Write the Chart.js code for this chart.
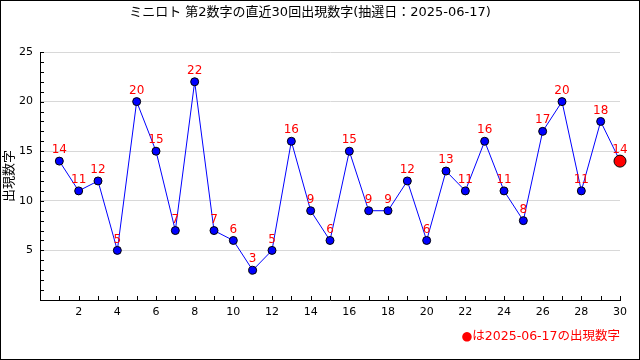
<!DOCTYPE html>
<html>
<head>
<meta charset="utf-8">
<script src="https://cdn.jsdelivr.net/npm/chart.js@4"></script>
<style>
html,body{margin:0;padding:0;background:#fff;}
canvas{display:block;}
</style>
</head>
<body>
<canvas id="c" width="640" height="360"></canvas>
<script>
const draws = [1,2,3,4,5,6,7,8,9,10,11,12,13,14,15,16,17,18,19,20,21,22,23,24,25,26,27,28,29,30];
const numbers = [14,11,12,5,20,15,7,22,7,6,3,5,16,9,6,15,9,9,12,6,13,11,16,11,8,17,20,11,18,14];
const yTicks = [5,10,15,20,25];
const xTicks = [2,4,6,8,10,12,14,16,18,20,22,24,26,28,30];
const titleText = 'ミニロト 第2数字の直近30回出現数字(抽選日：2025-06-17)';
const yTitle = '出現数字';
const noteText = '●は2025-06-17の出現数字';

const FONT = "'DejaVu Sans', 'Noto Sans CJK JP', sans-serif";
const last = numbers.length - 1;

const extras = {
  id: 'extras',
  afterDraw(chart) {
    const ctx = chart.ctx;
    const xs = chart.scales.x, ys = chart.scales.y;
    const a = chart.chartArea;
    ctx.save();
    ctx.strokeStyle = '#000';
    ctx.lineWidth = 1;
    ctx.beginPath();
    for (let v = 1; v <= 25; v++) {
      const y = Math.round(ys.getPixelForValue(v)) + 0.5;
      ctx.moveTo(a.left, y); ctx.lineTo(a.left + 4, y);
    }
    for (let v = 1; v <= 30; v++) {
      const x = Math.round(xs.getPixelForValue(v)) + 0.5;
      ctx.moveTo(x, a.bottom); ctx.lineTo(x, a.bottom - 4);
    }
    ctx.stroke();
    ctx.strokeRect(0.5, 0.5, chart.width - 1, chart.height - 1);
    ctx.restore();
  },
  afterDatasetsDraw(chart) {
    const ctx = chart.ctx;
    const meta = chart.getDatasetMeta(0);
    ctx.save();
    ctx.fillStyle = '#ff0000';
    ctx.font = '12px ' + FONT;
    ctx.textAlign = 'center';
    ctx.textBaseline = 'middle';
    meta.data.forEach((pt, i) => {
      ctx.fillText(String(numbers[i]), pt.x, pt.y - 11);
    });
    ctx.restore();
  }
};

new Chart(document.getElementById('c'), {
  type: 'line',
  data: {
    labels: draws,
    datasets: [{
      data: draws.map((d, i) => ({x: d, y: numbers[i]})),
      borderColor: '#0000ff',
      borderWidth: 1,
      tension: 0,
      clip: false,
      pointRadius: numbers.map((_, i) => i === last ? 6 : 4),
      pointBackgroundColor: numbers.map((_, i) => i === last ? '#ff0000' : '#0000ff'),
      pointBorderColor: '#000',
      pointBorderWidth: 1
    }]
  },
  options: {
    responsive: false,
    animation: false,
    devicePixelRatio: 1,
    layout: {padding: {left: 0, right: 20, top: 0, bottom: 0}},
    plugins: {
      legend: {display: false},
      tooltip: {enabled: false},
      title: {
        display: true, text: titleText, color: '#000',
        font: {family: FONT, size: 13, weight: 'normal'},
        padding: {top: 5, bottom: 31.4}
      },
      subtitle: {
        display: true, text: noteText, color: '#ff0000', position: 'bottom', align: 'end',
        font: {family: FONT, size: 12.5, weight: 'normal'},
        padding: {top: 7, bottom: 16}
      }
    },
    scales: {
      x: {
        type: 'linear', min: 0, max: 30,
        afterFit(s) { s.height = 22; },
        afterBuildTicks(s) { s.ticks = xTicks.map(v => ({value: v})); },
        ticks: {color: '#000', font: {family: FONT, size: 11}, padding: 6, maxRotation: 0, autoSkip: false},
        grid: {drawOnChartArea: false, drawTicks: false},
        border: {display: true, color: '#000', width: 1}
      },
      y: {
        min: 0, max: 25,
        afterFit(s) { s.width = 40; },
        afterBuildTicks(s) { s.ticks = [0].concat(yTicks).map(v => ({value: v})); },
        ticks: {color: '#000', font: {family: FONT, size: 11}, padding: 7,
          callback: v => v === 0 ? '' : String(v)},
        grid: {drawTicks: false, color: ctx => ctx.tick && ctx.tick.value === 0 ? 'rgba(0,0,0,0)' : '#d8d8d8', lineWidth: 1},
        border: {display: true, color: '#000', width: 1},
        title: {display: true, text: yTitle, color: '#000', font: {family: FONT, size: 13}, padding: {top: 2, bottom: 0}}
      }
    }
  },
  plugins: [extras]
});
</script>
</body>
</html>
